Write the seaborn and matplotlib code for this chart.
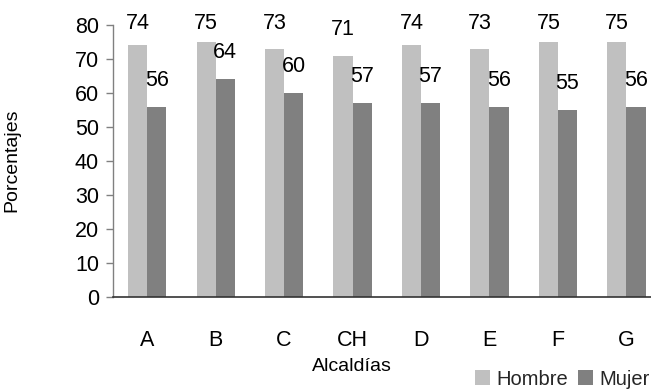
import matplotlib
matplotlib.use("Agg")
import matplotlib.pyplot as plt
import seaborn as sns
import pandas as pd
from matplotlib.patches import Patch

categories = ["A", "B", "C", "CH", "D", "E", "F", "G"]
hombre = [74, 75, 73, 71, 74, 73, 75, 75]
mujer = [56, 64, 60, 57, 57, 56, 55, 56]
series = ["Hombre", "Mujer"]
colors = {"Hombre": "#C0C0C0", "Mujer": "#808080"}

df = pd.DataFrame({
    "Alcaldía": categories * 2,
    "Sexo": ["Hombre"] * len(categories) + ["Mujer"] * len(categories),
    "Porcentaje": hombre + mujer,
})

sns.set_theme(style="white")
plt.rcParams["font.family"] = ["Liberation Sans", "DejaVu Sans"]

fig = plt.figure(figsize=(6.51, 3.89), dpi=100)
ax = fig.add_axes([113 / 651, (389 - 297) / 389, 538 / 651, 272 / 389])

sns.barplot(data=df, x="Alcaldía", y="Porcentaje", hue="Sexo", order=categories,
            hue_order=series, palette=colors, width=0.56, saturation=1,
            edgecolor="none", linewidth=0, ax=ax, legend=False)

ax.set_ylim(0, 80)
ax.set_xlim(-0.5, 7.36)
ax.set_yticks(range(0, 81, 10))
ax.tick_params(axis="y", left=True, length=5, width=1, color="#808080",
               labelsize=15.5, pad=5, labelcolor="#000000")
ax.tick_params(axis="x", bottom=False, labelsize=15.5, pad=18,
               labelcolor="#000000")
for s in ["top", "right"]:
    ax.spines[s].set_visible(False)
ax.spines["left"].set_color("#808080")
ax.spines["bottom"].set_color("#333333")
ax.spines["left"].set_linewidth(1)
ax.spines["bottom"].set_linewidth(1.2)

ax.set_xlabel("Alcaldías", fontsize=14, color="#000000")
ax.set_ylabel("Porcentajes", fontsize=14, color="#000000")
ax.xaxis.set_label_coords((352 - 113) / 538, -0.225)
ax.yaxis.set_label_coords((20 - 113) / 538, 0.504)

# Data labels from the bar containers
for cont, vals in zip(ax.containers, [hombre, mujer]):
    for bar, v in zip(cont, vals):
        xc = bar.get_x() + bar.get_width() / 2
        ypos = min(v + 7.8, 80.4)
        ax.text(xc, ypos, f"{v}", ha="center", va="center", fontsize=15.5,
                color="#000000", clip_on=False)

handles = [Patch(facecolor=colors[s], edgecolor="none") for s in series]
fig.legend(handles, series, loc="lower right", bbox_to_anchor=(1.016, -0.03),
           ncol=2, frameon=False, fontsize=14.5, handlelength=0.75,
           handleheight=0.75, handletextpad=0.3, columnspacing=0.5,
           borderaxespad=0.2)

fig.savefig("out.png", dpi=100)
